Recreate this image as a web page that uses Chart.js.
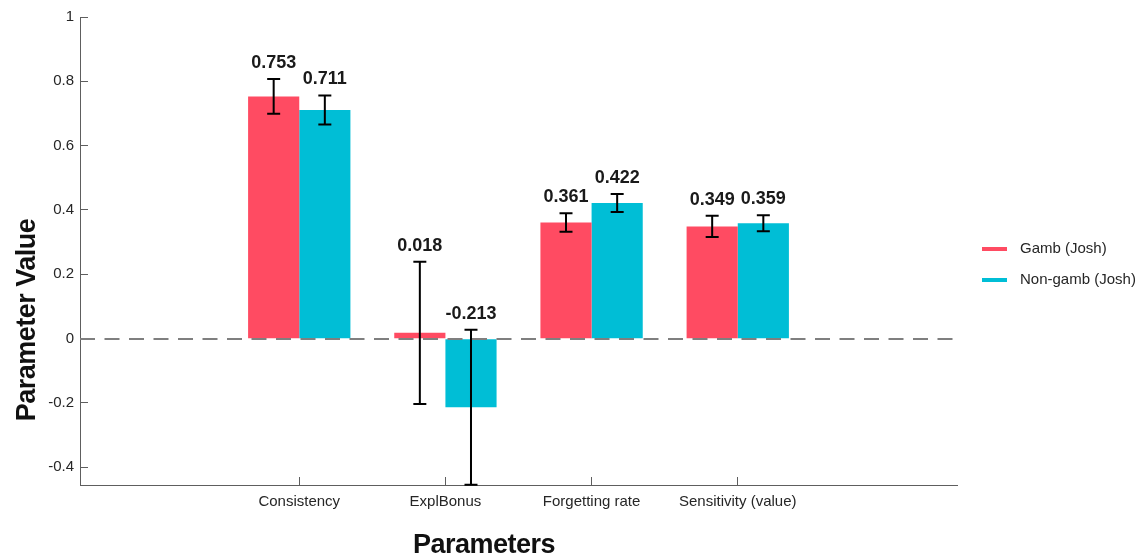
<!DOCTYPE html>
<html>
<head>
<meta charset="utf-8">
<script src="https://cdn.jsdelivr.net/npm/chart.js@4.4.1/dist/chart.umd.min.js"></script>
<style>
  html, body { margin: 0; padding: 0; background: #ffffff; }
  #wrap { width: 1145px; height: 557px; }
</style>
</head>
<body>
<div id="wrap"><canvas id="chart" width="1145" height="557"></canvas></div>
<script>
// Parameter estimates per group; blank slots pad the axis on both sides
const categories = ['', 'Consistency', 'ExplBonus', 'Forgetting rate', 'Sensitivity (value)', ''];
const seriesNames = ['Gamb (Josh)', 'Non-gamb (Josh)'];
const gambValues = [null, 0.753, 0.018, 0.361, 0.349, null];
const nonGambValues = [null, 0.711, -0.213, 0.422, 0.359, null];
// Half-length of each error bar
const gambErrors = [null, 0.054, 0.221, 0.029, 0.033, null];
const nonGambErrors = [null, 0.045, 0.241, 0.028, 0.025, null];
const yTickValues = [-0.4, -0.2, 0, 0.2, 0.4, 0.6, 0.8, 1];

const RED = '#FF4B62';
const CYAN = '#00BED6';
const AXIS = '#5e5e5e';
const TEXT = '#262626';
const FONT = "'Liberation Sans', Arial, Helvetica, sans-serif";

const errorsBySeries = [gambErrors, nonGambErrors];

// Dashed reference line at zero, drawn over the bars
const zeroLine = {
  id: 'zeroLine',
  afterDatasetsDraw(chart) {
    const { ctx, chartArea, scales } = chart;
    const y = Math.round(scales.y.getPixelForValue(0));
    ctx.save();
    ctx.strokeStyle = '#7f7f7f';
    ctx.lineWidth = 2;
    ctx.setLineDash([15, 9.5]);
    ctx.beginPath();
    ctx.moveTo(chartArea.left, y);
    ctx.lineTo(chartArea.right, y);
    ctx.stroke();
    ctx.restore();
  }
};

// Error bars and value labels above each bar
const errorBars = {
  id: 'errorBars',
  afterDatasetsDraw(chart) {
    const { ctx, scales } = chart;
    const yScale = scales.y;
    chart.data.datasets.forEach((ds, di) => {
      const meta = chart.getDatasetMeta(di);
      const errs = errorsBySeries[di];
      ds.data.forEach((v, i) => {
        if (v === null) return;
        const bar = meta.data[i];
        const x = bar.x;
        const yTop = yScale.getPixelForValue(v + errs[i]);
        const yBot = yScale.getPixelForValue(v - errs[i]);
        ctx.save();
        ctx.strokeStyle = '#000000';
        ctx.lineWidth = 2;
        ctx.beginPath();
        ctx.moveTo(x, yTop); ctx.lineTo(x, yBot);
        ctx.moveTo(x - 6.5, yTop); ctx.lineTo(x + 6.5, yTop);
        ctx.moveTo(x - 6.5, yBot); ctx.lineTo(x + 6.5, yBot);
        ctx.stroke();
        ctx.fillStyle = '#1a1a1a';
        ctx.font = 'bold 18px ' + FONT;
        ctx.textAlign = 'center';
        ctx.textBaseline = 'middle';
        ctx.fillText(v.toFixed(3), x, yTop - 16);
        ctx.restore();
      });
    });
  }
};

// Axis titles and the legend in the right margin
const annotations = {
  id: 'annotations',
  afterDraw(chart) {
    const { ctx, chartArea } = chart;
    ctx.save();
    ctx.fillStyle = '#111111';
    ctx.font = 'bold 27px ' + FONT;
    ctx.letterSpacing = '-0.5px';
    ctx.textAlign = 'center';
    ctx.textBaseline = 'alphabetic';
    ctx.fillText('Parameters', 484, 553);
    ctx.translate(35, 320);
    ctx.rotate(-Math.PI / 2);
    ctx.fillText('Parameter Value', 0, 0);
    ctx.restore();

    ctx.save();
    ctx.letterSpacing = '0px';
    const lx = chartArea.right + 25;
    const rows = [249, 280];
    chart.data.datasets.forEach((ds, di) => {
      const cy = rows[di];
      ctx.fillStyle = ds.backgroundColor;
      ctx.fillRect(lx, cy - 2, 25, 4);
      ctx.fillStyle = TEXT;
      ctx.font = '15px ' + FONT;
      ctx.textAlign = 'left';
      ctx.textBaseline = 'middle';
      ctx.fillText(ds.label, lx + 38, cy);
    });
    ctx.restore();
  }
};

new Chart(document.getElementById('chart'), {
  type: 'bar',
  data: {
    labels: categories,
    datasets: [
      { label: seriesNames[0], data: gambValues, backgroundColor: RED, borderWidth: 0 },
      { label: seriesNames[1], data: nonGambValues, backgroundColor: CYAN, borderWidth: 0 }
    ]
  },
  options: {
    responsive: false,
    devicePixelRatio: 1,
    animation: false,
    barPercentage: 1,
    categoryPercentage: 0.7,
    layout: { padding: { top: 17, right: 188, left: 0, bottom: 0 } },
    plugins: {
      legend: { display: false },
      tooltip: { enabled: false }
    },
    scales: {
      x: {
        type: 'category',
        offset: true,
        border: { color: AXIS, width: 1 },
        grid: {
          offset: false,
          drawOnChartArea: false,
          tickLength: -8,
          tickWidth: 1,
          tickColor: (c) => (categories[c.index] ? AXIS : 'rgba(0,0,0,0)')
        },
        ticks: {
          color: TEXT,
          font: { family: FONT, size: 15 },
          padding: 16,
          maxRotation: 0,
          autoSkip: false
        },
        afterFit: (s) => { s.height = 72; s.paddingLeft = 0; s.paddingRight = 0; }
      },
      y: {
        type: 'linear',
        min: -0.455,
        max: 1,
        border: { color: AXIS, width: 1 },
        grid: {
          drawOnChartArea: false,
          tickLength: -8,
          tickWidth: 1,
          tickColor: AXIS
        },
        afterBuildTicks: (s) => { s.ticks = yTickValues.map((v) => ({ value: v })); },
        ticks: {
          color: TEXT,
          font: { family: FONT, size: 15 },
          padding: 14,
          callback: (v) => String(Math.round(v * 10) / 10)
        },
        afterFit: (s) => { s.width = 80; s.paddingTop = 0; s.paddingBottom = 0; }
      }
    }
  },
  plugins: [zeroLine, errorBars, annotations]
});
</script>
</body>
</html>
